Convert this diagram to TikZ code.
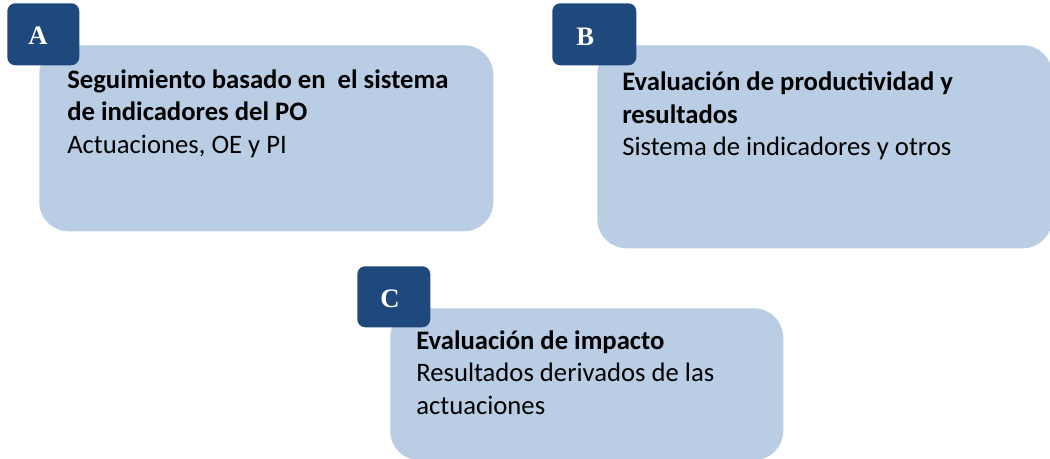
\documentclass[tikz,border=0pt]{standalone}
\usepackage{fontspec}
\setmainfont{Carlito}
\newfontfamily\tagfont{Liberation Serif}
\definecolor{tagblue}{HTML}{1F497D}
\definecolor{boxblue}{HTML}{B9CDE5}
\tikzset{
  panel/.style={fill=boxblue, draw=none, rounded corners=22pt, inner sep=0pt, anchor=north west},
  tagbox/.style={fill=tagblue, draw=none, rounded corners=6pt, inner sep=0pt, anchor=north west},
  tagletter/.style={inner sep=0pt, anchor=base west, text=white, font=\tagfont\bfseries\fontsize{20}{24}\selectfont},
  body/.style={inner sep=0pt, anchor=base west, font=\fontsize{20}{24}\selectfont}
}
\begin{document}
\begin{tikzpicture}[x=0.75pt, y=-0.75pt]
\useasboundingbox (0,0) rectangle (1050,458);
% panels
\node[panel, minimum width=340.5pt, minimum height=139.5pt] (pA) at (39,45) {};
\node[panel, minimum width=341.25pt, minimum height=152.25pt] (pB) at (597,45) {};
\node[panel, minimum width=294.75pt, minimum height=114pt] (pC) at (390,308) {};
% tags
\node[tagbox, minimum width=54pt, minimum height=46.5pt] (tA) at (7,3) {};
\node[tagbox, minimum width=63pt, minimum height=46.5pt] (tB) at (552,3) {};
\node[tagbox, minimum width=54.75pt, minimum height=45.75pt] (tC) at (357,266) {};
\node[tagletter] (lA) at (28,44) {A};
\node[tagletter] (lB) at (576,45) {B};
\node[tagletter] (lC) at (380,307) {C};
% texts
\node[body] (xA) at (67,88) {\vtop{\baselineskip=24.4pt
  \hbox{\bfseries Seguimiento basado en\ \ el sistema}
  \hbox{\bfseries de indicadores del PO}
  \hbox{Actuaciones, OE y PI}}};
\node[body] (xB) at (622,90.5) {\vtop{\baselineskip=24.4pt
  \hbox{\bfseries Evaluación de productividad y}
  \hbox{\bfseries resultados}
  \hbox{Sistema de indicadores y otros}}};
\node[body] (xC) at (416,349) {\vtop{\baselineskip=24.4pt
  \hbox{\bfseries Evaluación de impacto}
  \hbox{Resultados derivados de las}
  \hbox{actuaciones}}};
\end{tikzpicture}
\end{document}
